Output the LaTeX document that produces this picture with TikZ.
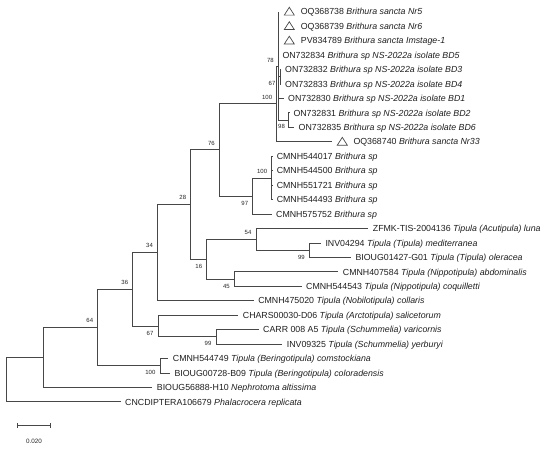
\documentclass[tikz,border=0pt]{standalone}
\usepackage{fontspec}
\setmainfont{Liberation Sans}
\usetikzlibrary{calc}
\begin{document}
\begin{tikzpicture}[x=1pt,y=-1pt,
  br/.style={draw=black!72,line width=0.8pt},
  leaf/.style={anchor=base west,inner sep=0pt,yshift=-3.2pt,text=black!88,font=\fontsize{8.8}{10}\selectfont},
  bsu/.style={anchor=south east,inner sep=0pt,xshift=-4.4pt,yshift=4.4pt,text=black!85,font=\fontsize{6}{7}\selectfont},
  bsl/.style={anchor=north east,inner sep=0pt,xshift=-4.4pt,yshift=-4.8pt,text=black!85,font=\fontsize{6}{7}\selectfont},
  opentri/.pic={\draw[draw=black!72,line width=0.7pt] (-5,3.4) -- (5,3.4) -- (0,-4.4) -- cycle;}
]
\useasboundingbox[fill=white] (0,0) rectangle (550,450);
% internal nodes
\coordinate (R) at (6,379.7);
\coordinate (B) at (43.3,357.5);
\coordinate (C) at (97.7,327.5);
\coordinate (D) at (132.7,289.3);
\coordinate (Ber) at (160,365.7);
\coordinate (E) at (157.5,252.6);
\coordinate (Nsa) at (158,326.0);
\coordinate (Nsb) at (216,336.8);
\coordinate (F) at (190.7,204.5);
\coordinate (G) at (219.3,149.85);
\coordinate (H) at (206.7,259.2);
\coordinate (Nf) at (256,239.3);
\coordinate (Ng) at (309.3,250.1);
\coordinate (Nh) at (234.3,279.0);
\coordinate (Nk) at (252.7,195.9);
\coordinate (Bsp) at (271.7,177.9);
\coordinate (I) at (276.7,103.8);
\coordinate (X) at (278.3,65.9);
\coordinate (Nm) at (280,76.7);
\coordinate (Nn) at (288.5,120.1);
% leaf ends
\coordinate (L1) at (278.3,11.7);
\coordinate (L2) at (278.3,26.15);
\coordinate (L3) at (278.3,40.6);
\coordinate (L4) at (278.3,55.05);
\coordinate (L5) at (281,69.5);
\coordinate (L6) at (281,83.95);
\coordinate (L7) at (284,98.4);
\coordinate (L8) at (289.3,112.85);
\coordinate (L9) at (294.2,127.3);
\coordinate (L10) at (331.7,141.75);
\coordinate (L11) at (272.3,156.2);
\coordinate (L12) at (272.3,170.65);
\coordinate (L13) at (272.3,185.1);
\coordinate (L14) at (272.3,199.55);
\coordinate (L15) at (271.5,214);
\coordinate (L16) at (368.3,228.45);
\coordinate (L17) at (321.2,242.9);
\coordinate (L18) at (351.2,257.35);
\coordinate (L19) at (338.4,271.8);
\coordinate (L20) at (301.7,286.25);
\coordinate (L21) at (253.8,300.7);
\coordinate (L22) at (238.4,315.15);
\coordinate (L23) at (258.7,329.6);
\coordinate (L24) at (282.4,344.05);
\coordinate (L25) at (168.2,358.5);
\coordinate (L26) at (170.0,372.95);
\coordinate (L27) at (152.4,387.4);
\coordinate (L28) at (120.7,401.85);
% branches
\draw[br] (R) |- (B); \draw[br] (R) |- (L28);
\draw[br] (B) |- (C); \draw[br] (B) |- (L27);
\draw[br] (C) |- (D); \draw[br] (C) |- (Ber);
\draw[br] (Ber) |- (L25); \draw[br] (Ber) |- (L26);
\draw[br] (D) |- (E); \draw[br] (D) |- (Nsa);
\draw[br] (Nsa) |- (L22); \draw[br] (Nsa) |- (Nsb);
\draw[br] (Nsb) |- (L23); \draw[br] (Nsb) |- (L24);
\draw[br] (E) |- (F); \draw[br] (E) |- (L21);
\draw[br] (F) |- (G); \draw[br] (F) |- (H);
\draw[br] (H) |- (Nf); \draw[br] (H) |- (Nh);
\draw[br] (Nf) |- (L16); \draw[br] (Nf) |- (Ng);
\draw[br] (Ng) |- (L17); \draw[br] (Ng) |- (L18);
\draw[br] (Nh) |- (L19); \draw[br] (Nh) |- (L20);
\draw[br] (G) |- (I); \draw[br] (G) |- (Nk);
\draw[br] (Nk) |- (Bsp); \draw[br] (Nk) |- (L15);
\draw[br] (Bsp) |- (L11); \draw[br] (Bsp) |- (L12); \draw[br] (Bsp) |- (L13); \draw[br] (Bsp) |- (L14);
\draw[br] (I) |- (X); \draw[br] (I) |- (L10);
\draw[br] (X) |- (L1); \draw[br] (X) |- (L2); \draw[br] (X) |- (L3); \draw[br] (X) |- (L4);
\draw[br] (X) |- (Nm); \draw[br] (X) |- (L7); \draw[br] (X) |- (Nn);
\draw[br] (Nm) |- (L5); \draw[br] (Nm) |- (L6);
\draw[br] (Nn) |- (L8); \draw[br] (Nn) |- (L9);
% triangles
\pic at ($(L1)+(11,0)$) {opentri};
\pic at ($(L2)+(11,0)$) {opentri};
\pic at ($(L3)+(11,0)$) {opentri};
\pic at ($(L10)+(10.6,0)$) {opentri};
% leaf labels
\node[leaf] (T1) at ($(L1)+(22.4,0)$) {OQ368738 \textit{Brithura sancta Nr5}};
\node[leaf] (T2) at ($(L2)+(22.4,0)$) {OQ368739 \textit{Brithura sancta Nr6}};
\node[leaf] (T3) at ($(L3)+(22.4,0)$) {PV834789 \textit{Brithura sancta Imstage-1}};
\node[leaf] (T4) at ($(L4)+(4,0)$) {ON732834 \textit{Brithura sp NS-2022a isolate BD5}};
\node[leaf] (T5) at ($(L5)+(4,0)$) {ON732832 \textit{Brithura sp NS-2022a isolate BD3}};
\node[leaf] (T6) at ($(L6)+(4,0)$) {ON732833 \textit{Brithura sp NS-2022a isolate BD4}};
\node[leaf] (T7) at ($(L7)+(4,0)$) {ON732830 \textit{Brithura sp NS-2022a isolate BD1}};
\node[leaf] (T8) at ($(L8)+(4,0)$) {ON732831 \textit{Brithura sp NS-2022a isolate BD2}};
\node[leaf] (T9) at ($(L9)+(4.3,0)$) {ON732835 \textit{Brithura sp NS-2022a isolate BD6}};
\node[leaf] (T10) at ($(L10)+(21.6,0)$) {OQ368740 \textit{Brithura sancta Nr33}};
\node[leaf] (T11) at ($(L11)+(4.3,0)$) {CMNH544017 \textit{Brithura sp}};
\node[leaf] (T12) at ($(L12)+(4.3,0)$) {CMNH544500 \textit{Brithura sp}};
\node[leaf] (T13) at ($(L13)+(4.3,0)$) {CMNH551721 \textit{Brithura sp}};
\node[leaf] (T14) at ($(L14)+(4.3,0)$) {CMNH544493 \textit{Brithura sp}};
\node[leaf] (T15) at ($(L15)+(4.5,0)$) {CMNH575752 \textit{Brithura sp}};
\node[leaf] (T16) at ($(L16)+(4.4,0)$) {ZFMK-TIS-2004136 \textit{Tipula (Acutipula) luna}};
\node[leaf] (T17) at ($(L17)+(4.1,0)$) {INV04294 \textit{Tipula (Tipula) mediterranea}};
\node[leaf] (T18) at ($(L18)+(4.1,0)$) {BIOUG01427-G01 \textit{Tipula (Tipula) oleracea}};
\node[leaf] (T19) at ($(L19)+(4.3,0)$) {CMNH407584 \textit{Tipula (Nippotipula) abdominalis}};
\node[leaf] (T20) at ($(L20)+(4.3,0)$) {CMNH544543 \textit{Tipula (Nippotipula) coquilletti}};
\node[leaf] (T21) at ($(L21)+(4.3,0)$) {CMNH475020 \textit{Tipula (Nobilotipula) collaris}};
\node[leaf] (T22) at ($(L22)+(4.3,0)$) {CHARS00030-D06 \textit{Tipula (Arctotipula) salicetorum}};
\node[leaf] (T23) at ($(L23)+(4.3,0)$) {CARR 008 A5 \textit{Tipula (Schummelia) varicornis}};
\node[leaf] (T24) at ($(L24)+(4.3,0)$) {INV09325 \textit{Tipula (Schummelia) yerburyi}};
\node[leaf] (T25) at ($(L25)+(4.5,0)$) {CMNH544749 \textit{Tipula (Beringotipula) comstockiana}};
\node[leaf] (T26) at ($(L26)+(4.3,0)$) {BIOUG00728-B09 \textit{Tipula (Beringotipula) coloradensis}};
\node[leaf] (T27) at ($(L27)+(4.3,0)$) {BIOUG56888-H10 \textit{Nephrotoma altissima}};
\node[leaf] (T28) at ($(L28)+(4.3,0)$) {CNCDIPTERA106679 \textit{Phalacrocera replicata}};
% bootstrap values
\node[bsu] (b64) at (C) {64};
\node[bsu] (b36) at (D) {36};
\node[bsl] (b100c) at (Ber) {100};
\node[bsu] (b34) at (E) {34};
\node[bsl] (b67a) at (Nsa) {67};
\node[bsl] (b99a) at (Nsb) {99};
\node[bsu] (b28) at (F) {28};
\node[bsu] (b76) at (G) {76};
\node[bsl] (b16) at (H) {16};
\node[bsu] (b54) at (Nf) {54};
\node[bsl] (b99b) at (Ng) {99};
\node[bsl] (b45) at (Nh) {45};
\node[bsl] (b97) at (Nk) {97};
\node[bsu] (b100b) at (Bsp) {100};
\node[bsu] (b100a) at (I) {100};
\node[bsu,yshift=-1.5pt] (b78) at (X) {78};
\node[bsl,yshift=0.5pt] (b67b) at (Nm) {67};
\node[bsl,xshift=1pt,yshift=1pt] (b98) at (Nn) {98};
% scale bar
\coordinate (S1) at (17.3,425.7);
\coordinate (S2) at (50.7,425.7);
\draw[br] (S1) -- (S2);
\draw[br] ($(S1)+(0,-2.3)$) -- ($(S1)+(0,2.3)$);
\draw[br] ($(S2)+(0,-2.3)$) -- ($(S2)+(0,2.3)$);
\node[inner sep=0pt,text=black!85,font=\fontsize{6.3}{7}\selectfont] (sl) at (34.1,441) {0.020};
\end{tikzpicture}
\end{document}
